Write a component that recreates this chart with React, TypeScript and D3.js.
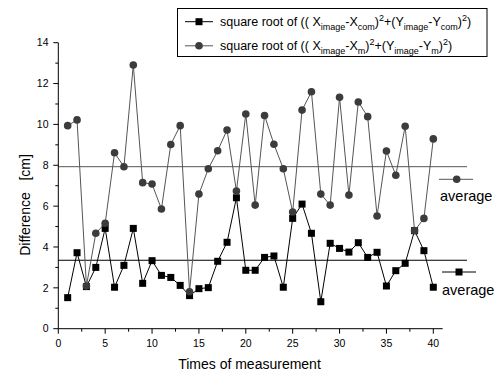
import React from "react";
import * as d3 from "d3";

// measurement index 1..40
const times = d3.range(1, 41);

// sqrt((Ximage-Xcom)^2+(Yimage-Ycom)^2)  [cm]
const comValues = [
  1.52, 3.72, 2.06, 3.0, 4.91, 2.03, 3.1, 4.91, 2.22, 3.33,
  2.61, 2.51, 2.12, 1.62, 1.96, 2.01, 3.3, 4.23, 6.41, 2.86,
  2.86, 3.49, 3.56, 2.03, 5.4, 6.1, 4.67, 1.32, 4.18, 3.93,
  3.75, 4.21, 3.49, 3.74, 2.09, 2.84, 3.2, 4.8, 3.82, 2.03,
];

// sqrt((Ximage-Xm)^2+(Yimage-Ym)^2)  [cm]
const mValues = [
  9.94, 10.22, 2.09, 4.67, 5.16, 8.61, 7.93, 12.91, 7.15, 7.08,
  5.86, 9.02, 9.94, 1.81, 6.59, 7.83, 8.71, 9.73, 6.74, 10.51,
  6.05, 10.44, 9.03, 7.83, 5.71, 10.7, 11.6, 6.59, 6.05, 11.33,
  6.54, 11.1, 10.38, 5.52, 8.7, 7.51, 9.91, 4.8, 5.4, 9.29,
];

const comAverage = 3.35;
const mAverage = 7.93;

const xTicks = [0, 5, 10, 15, 20, 25, 30, 35, 40];
const xMinorTicks = [2.5, 7.5, 12.5, 17.5, 22.5, 27.5, 32.5, 37.5];
const yTicks = [0, 2, 4, 6, 8, 10, 12, 14];
const yMinorTicks = [1, 3, 5, 7, 9, 11, 13];

const W = 494;
const H = 372;
const FONT = "Arial, 'Liberation Sans', sans-serif";

type Seg = { t: string; k?: "sub" | "sup" };

const legendRow1: Seg[] = [
  { t: "square root of (( X" }, { t: "image", k: "sub" }, { t: "-X" }, { t: "com", k: "sub" },
  { t: ")" }, { t: "2", k: "sup" }, { t: "+(Y" }, { t: "image", k: "sub" }, { t: "-Y" },
  { t: "com", k: "sub" }, { t: ")" }, { t: "2", k: "sup" }, { t: ")" },
];
const legendRow2: Seg[] = [
  { t: "square root of (( X" }, { t: "image", k: "sub" }, { t: "-X" }, { t: "m", k: "sub" },
  { t: ")" }, { t: "2", k: "sup" }, { t: "+(Y" }, { t: "image", k: "sub" }, { t: "-Y" },
  { t: "m", k: "sub" }, { t: ")" }, { t: "2", k: "sup" }, { t: ")" },
];

// render text with sub/superscripts, offsets relative to baseline
const RichText: React.FC<{ x: number; y: number; segs: Seg[] }> = ({ x, y, segs }) => {
  let cur = 0;
  return (
    <text x={x} y={y} fontSize={12.5} fontFamily={FONT} fill="#000" style={{ whiteSpace: "pre" }}>
      {segs.map((s, i) => {
        const target = s.k === "sub" ? 3.5 : s.k === "sup" ? -5.5 : 0;
        const dy = target - cur;
        cur = target;
        return (
          <tspan key={i} dy={dy} fontSize={s.k ? 9 : 12.5}>
            {s.t}
          </tspan>
        );
      })}
    </text>
  );
};

export default function App() {
  const x = d3.scaleLinear().domain([0, 40]).range([58.3, 433.3]);
  const y = d3.scaleLinear().domain([0, 14]).range([328.7, 42.7]);
  const xEnd = x(41);

  const line = d3
    .line<number>()
    .x((_, i) => x(times[i]))
    .y((d) => y(d));

  const sq = 7;
  const r = 3.8;
  const mColor = "#3c3c3c";
  const mLine = "#555";

  return (
    <div style={{ position: "absolute", left: 0, top: 0 }}>
      <svg width={W} height={H} style={{ display: "block", background: "#fff" }}>
        <rect width={W} height={H} fill="#fff" />

        {/* average lines */}
        <line x1={x(0)} x2={467} y1={y(mAverage)} y2={y(mAverage)} stroke={mLine} strokeWidth={1} />
        <line x1={x(0)} x2={467} y1={y(comAverage)} y2={y(comAverage)} stroke="#000" strokeWidth={1} />

        {/* axes */}
        <g stroke="#000" strokeWidth={1}>
          <line x1={x(0)} x2={xEnd} y1={y(0)} y2={y(0)} />
          <line x1={x(0)} x2={x(0)} y1={y(0)} y2={y(14)} />
          {xTicks.map((t) => (
            <line key={"xt" + t} x1={x(t)} x2={x(t)} y1={y(0)} y2={y(0) + 5} />
          ))}
          {xMinorTicks.map((t) => (
            <line key={"xm" + t} x1={x(t)} x2={x(t)} y1={y(0)} y2={y(0) + 3} />
          ))}
          {yTicks.map((t) => (
            <line key={"yt" + t} x1={x(0) - 5} x2={x(0)} y1={y(t)} y2={y(t)} />
          ))}
          {yMinorTicks.map((t) => (
            <line key={"ym" + t} x1={x(0) - 3} x2={x(0)} y1={y(t)} y2={y(t)} />
          ))}
        </g>
        <g fontFamily={FONT} fontSize={10.5} fill="#000">
          {xTicks.map((t) => (
            <text key={"xl" + t} x={x(t)} y={347} textAnchor="middle">
              {t}
            </text>
          ))}
          {yTicks.map((t) => (
            <text key={"yl" + t} x={48.5} y={y(t) + 3.7} textAnchor="end">
              {t}
            </text>
          ))}
        </g>
        <text x={x(20.5) - 1} y={369} textAnchor="middle" fontFamily={FONT} fontSize={14}>
          Times of measurement
        </text>
        <text
          transform={`translate(30,${205}) rotate(-90)`}
          textAnchor="middle"
          fontFamily={FONT}
          fontSize={14}
          style={{ whiteSpace: "pre" }}
        >
          {"Difference   [cm]"}
        </text>

        {/* series 1: squares */}
        <path d={line(comValues) || ""} fill="none" stroke="#000" strokeWidth={1} />
        {comValues.map((v, i) => (
          <rect key={"s" + i} x={x(times[i]) - sq / 2} y={y(v) - sq / 2} width={sq} height={sq} fill="#000" />
        ))}

        {/* series 2: circles */}
        <path d={line(mValues) || ""} fill="none" stroke={mLine} strokeWidth={1} />
        {mValues.map((v, i) => (
          <circle key={"c" + i} cx={x(times[i])} cy={y(v)} r={r} fill={mColor} />
        ))}

        {/* legend */}
        <rect x={177.5} y={8.5} width={309.5} height={48} fill="#fff" stroke="#000" strokeWidth={1} />
        <line x1={185} x2={213} y1={21.7} y2={21.7} stroke="#000" />
        <rect x={199 - sq / 2} y={21.7 - sq / 2} width={sq} height={sq} fill="#000" />
        <RichText x={220} y={26.2} segs={legendRow1} />
        <line x1={185} x2={213} y1={45.8} y2={45.8} stroke={mLine} />
        <circle cx={199} cy={45.8} r={r} fill={mColor} />
        <RichText x={220} y={50.3} segs={legendRow2} />

        {/* average labels */}
        <line x1={439} x2={473} y1={179.3} y2={179.3} stroke={mLine} />
        <circle cx={456.7} cy={179.3} r={r} fill={mColor} />
        <text x={440} y={201} fontFamily={FONT} fontSize={14.5}>
          average
        </text>
        <line x1={442} x2={476} y1={272} y2={272} stroke="#000" />
        <rect x={459 - sq / 2} y={272 - sq / 2} width={sq} height={sq} fill="#000" />
        <text x={442} y={295} fontFamily={FONT} fontSize={14.5}>
          average
        </text>
      </svg>
    </div>
  );
}
